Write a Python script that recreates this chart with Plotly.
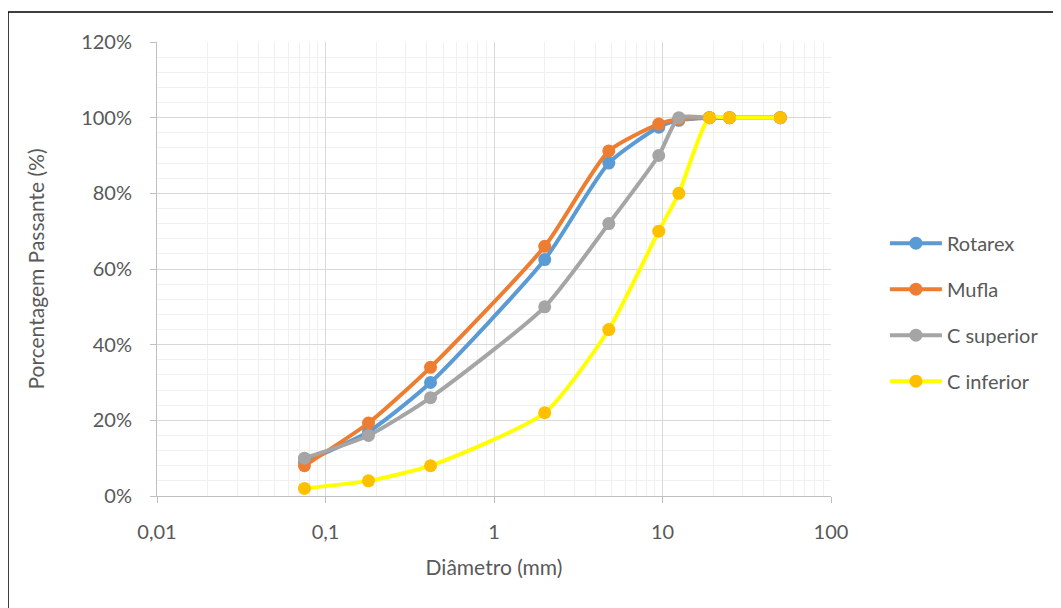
import plotly.graph_objects as go

diametro = [0.075, 0.18, 0.42, 2.0, 4.8, 9.5, 12.5, 19, 25, 50]
rotarex = [9, 17, 30, 62.5, 88, 97.5, 99.3, 100, 100, 100]
mufla = [8, 19.3, 34, 66, 91.2, 98.3, 99.6, 100, 100, 100]
c_superior = [10, 16, 26, 50, 72, 90, 100, 100, 100, 100]
c_inferior = [2, 4, 8, 22, 44, 70, 80, 100, 100, 100]

series = [
    ("Rotarex", rotarex, "#5B9BD5", "#5B9BD5"),
    ("Mufla", mufla, "#ED7D31", "#ED7D31"),
    ("C superior", c_superior, "#A5A5A5", "#A5A5A5"),
    ("C inferior", c_inferior, "#FFFF00", "#FFC000"),
]

x_tickvals = [0.01, 0.1, 1, 10, 100]
x_ticktext = ["0,01", "0,1", "1", "10", "100"]
y_tickvals = [0, 20, 40, 60, 80, 100, 120]
y_ticktext = ["0%", "20%", "40%", "60%", "80%", "100%", "120%"]

FONT = "Lato, Calibri, 'Open Sans', sans-serif"

# page body has an 8px margin, so the figure is offset by 8px
W, H = 1053, 600
L, T = 149, 34
PW, PH = 674, 454
R = W - L - PW
B = H - T - PH

fig = go.Figure()
for name, vals, lc, mc in series:
    fig.add_trace(go.Scatter(
        x=diametro, y=vals, name=name, mode="lines+markers",
        line=dict(color=lc, width=4, shape="spline", smoothing=0.6),
        marker=dict(color=mc, size=13),
        legendgroup=name,
    ))

fig.update_layout(
    width=W, height=H,
    margin=dict(l=L, r=R, t=T, b=B, pad=0, autoexpand=False),
    paper_bgcolor="white", plot_bgcolor="white",
    font=dict(family=FONT, color="#595959", size=20),
    showlegend=True,
    legend=dict(x=1.08, y=0.405, xanchor="left", yanchor="middle",
                font=dict(size=20, color="#595959"),
                traceorder="grouped", tracegroupgap=17,
                itemwidth=52,
                bgcolor="rgba(0,0,0,0)"),
    xaxis=dict(
        type="log", range=[-2, 2], automargin=False,
        tickvals=x_tickvals, ticktext=x_ticktext,
        showgrid=True, gridcolor="#D9D9D9", gridwidth=1,
        minor=dict(showgrid=True, gridcolor="#F0F0F0", dtick="D1", ticks=""),
        showline=True, linecolor="#BFBFBF", linewidth=1,
        ticks="outside", ticklen=6, tickcolor="#BFBFBF",
        ticklabelstandoff=12,
        tickfont=dict(size=20, color="#595959"),
        title=dict(text="Diâmetro (mm)", font=dict(size=21, color="#595959"), standoff=18),
        zeroline=False,
    ),
    yaxis=dict(
        range=[0, 120], automargin=False,
        tickvals=y_tickvals, ticktext=y_ticktext,
        showgrid=True, gridcolor="#D9D9D9", gridwidth=1,
        minor=dict(showgrid=True, gridcolor="#F0F0F0", dtick=4, ticks=""),
        showline=True, linecolor="#BFBFBF", linewidth=1,
        ticks="outside", ticklen=6, tickcolor="#BFBFBF",
        ticklabelstandoff=14,
        tickfont=dict(size=20, color="#595959"),
        title=dict(text="Porcentagem Passante (%)", font=dict(size=21, color="#595959"), standoff=30),
        zeroline=False,
    ),
    shapes=[dict(type="rect", xref="paper", yref="paper",
                 x0=(0 - L) / PW, x1=1.6, y0=-0.6, y1=1 + (T - 4) / PH,
                 line=dict(color="black", width=1.5), fillcolor="rgba(0,0,0,0)",
                 layer="above")],
)

fig.write_html("out.html")
